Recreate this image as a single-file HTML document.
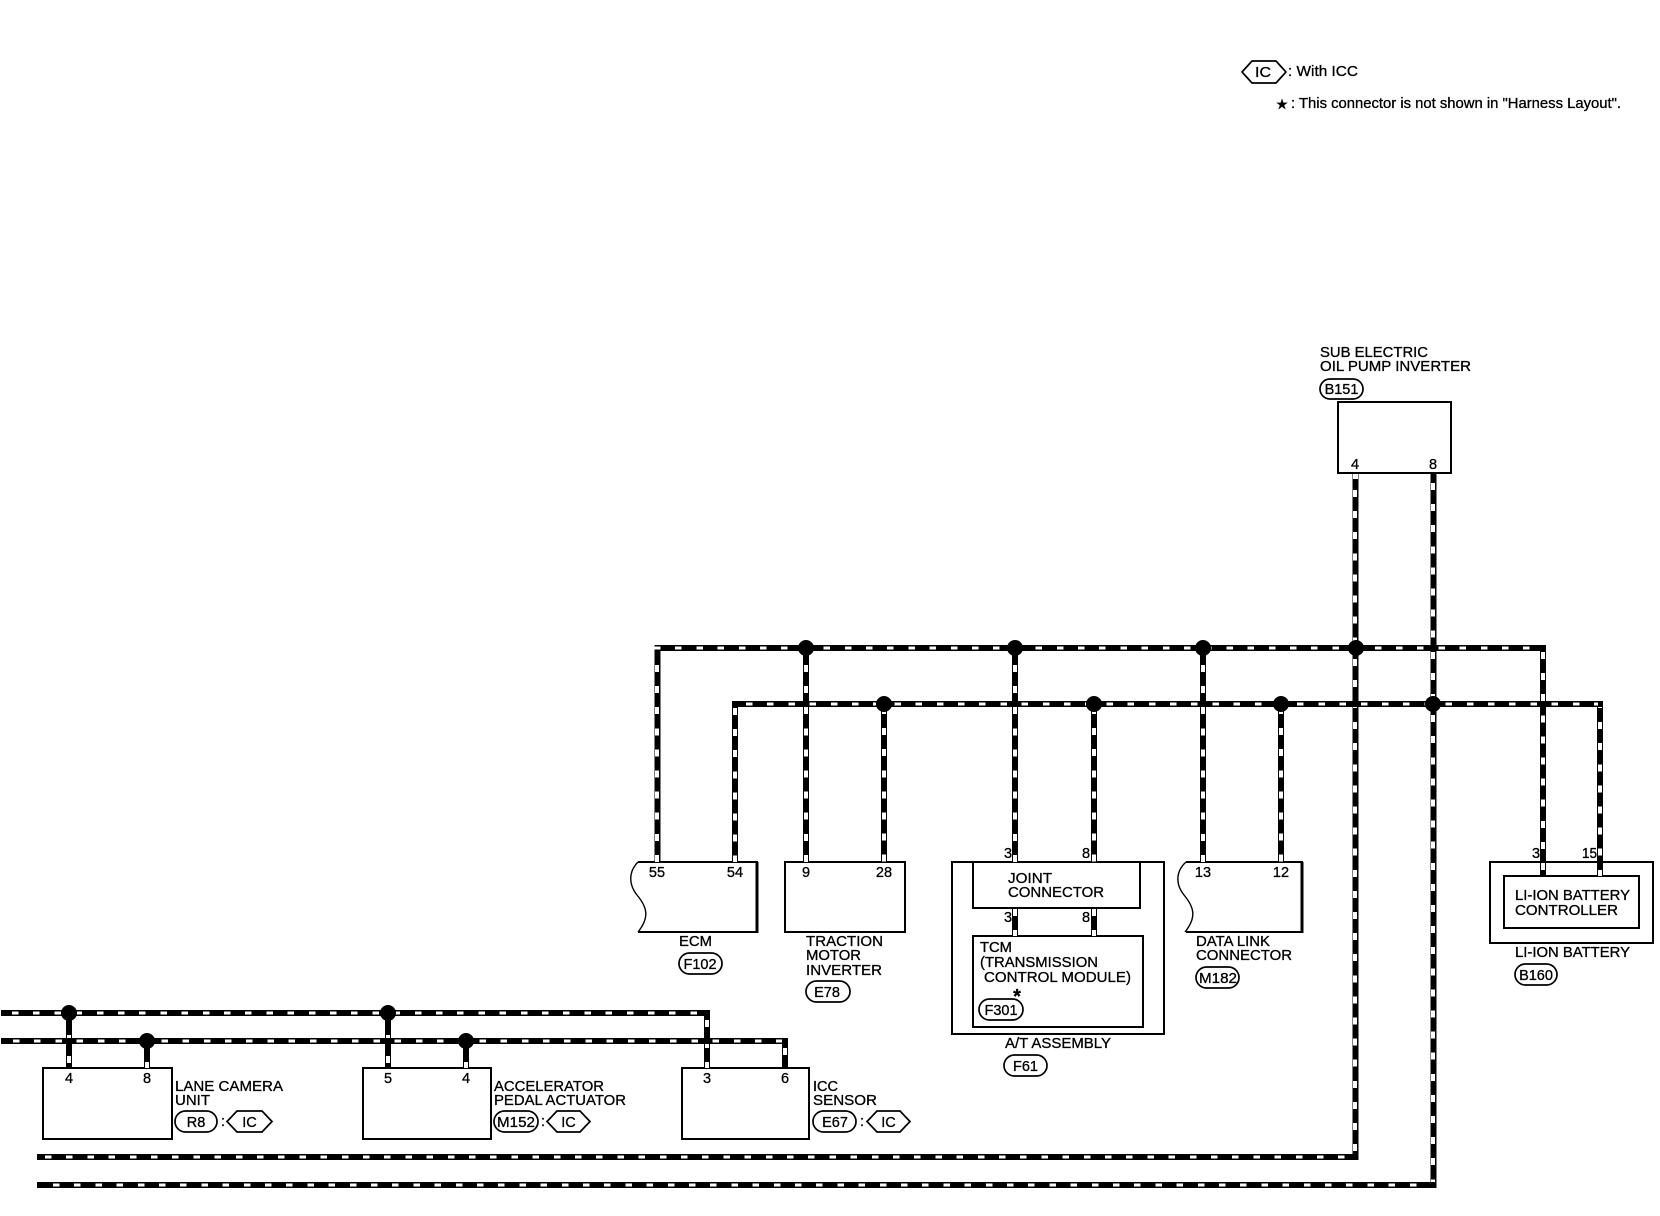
<!DOCTYPE html>
<html>
<head>
<meta charset="utf-8">
<title>Wiring Diagram</title>
<style>
html,body{margin:0;padding:0;background:#fff;}
svg{display:block;}
text{font-family:"Liberation Sans",sans-serif;font-size:14.5px;fill:#000;stroke:#000;stroke-width:.3;}
.c{text-anchor:middle;}
.k line{stroke:#000;fill:none;shape-rendering:crispEdges;}
.h{stroke-width:6;}
.v{stroke-width:6;}
.wh line{stroke:#fff;stroke-width:3;stroke-dasharray:6.5 14.7;fill:none;shape-rendering:crispEdges;}
.wv line{stroke:#fff;stroke-width:4;stroke-dasharray:7 14.1;fill:none;shape-rendering:crispEdges;}
.b{fill:none;stroke:#000;stroke-width:2;shape-rendering:crispEdges;}
.t{fill:none;stroke:#000;stroke-width:1.6;shape-rendering:crispEdges;}
.o{fill:#fff;stroke:#000;stroke-width:1.7;}
</style>
</head>
<body>
<svg width="1660" height="1216" viewBox="0 0 1660 1216" xmlns="http://www.w3.org/2000/svg">
<rect width="1660" height="1216" fill="#fff"/>

<!-- boxes -->
<rect class="b" x="1338" y="402" width="113" height="71"/>
<path class="b" d="M638 862H757V932H638" style="shape-rendering:auto"/>
<path d="M638 862C628 872 629 885 637 895C647 907 650 917 638 932" fill="none" stroke="#000" stroke-width="1.4"/>
<rect x="755.5" y="862" width="3" height="71" fill="#000"/>
<rect class="b" x="785" y="862" width="120" height="70"/>
<rect class="t" x="952" y="862" width="212" height="172"/>
<rect class="b" x="973" y="862" width="167" height="46"/>
<rect class="b" x="973" y="936" width="170" height="91"/>
<path class="b" d="M1186 862H1302V932H1186" style="shape-rendering:auto"/>
<path d="M1186 862C1175 872 1176 885 1184 895C1194 907 1197 917 1185 932" fill="none" stroke="#000" stroke-width="1.4"/>
<rect x="1300.5" y="862" width="3" height="71" fill="#000"/>
<rect class="t" x="1490" y="862" width="163" height="81"/>
<rect class="b" x="1504" y="876" width="135" height="52"/>
<rect class="b" x="43" y="1068" width="129" height="71"/>
<rect class="b" x="363" y="1068" width="128" height="71"/>
<rect class="b" x="682" y="1068" width="127" height="71"/>

<!-- wire black bodies -->
<g class="k">
<line class="h" x1="655" y1="648" x2="1546" y2="648"/>
<line class="h" x1="732" y1="704" x2="1603" y2="704"/>
<line class="h" x1="1" y1="1013" x2="710" y2="1013"/>
<line class="h" x1="1" y1="1041" x2="788" y2="1041"/>
<line class="h" x1="37" y1="1157" x2="1358" y2="1157"/>
<line class="h" x1="37" y1="1185" x2="1436" y2="1185"/>
<line class="v" x1="657.5" y1="645" x2="657.5" y2="862"/>
<line class="v" x1="735" y1="701" x2="735" y2="862"/>
<line class="v" x1="806" y1="648" x2="806" y2="862"/>
<line class="v" x1="884" y1="704" x2="884" y2="862"/>
<line class="v" x1="1015" y1="648" x2="1015" y2="862"/>
<line class="v" x1="1094" y1="704" x2="1094" y2="862"/>
<line class="v" x1="1015" y1="908" x2="1015" y2="936"/>
<line class="v" x1="1094" y1="908" x2="1094" y2="936"/>
<line class="v" x1="1203" y1="648" x2="1203" y2="862"/>
<line class="v" x1="1281" y1="704" x2="1281" y2="862"/>
<line class="v" x1="1355.5" y1="473" x2="1355.5" y2="1160"/>
<line class="v" x1="1433.5" y1="473" x2="1433.5" y2="1188"/>
<line class="v" x1="1543" y1="645" x2="1543" y2="876"/>
<line class="v" x1="1600" y1="701" x2="1600" y2="876"/>
<line class="v" x1="69" y1="1013" x2="69" y2="1068"/>
<line class="v" x1="147" y1="1041" x2="147" y2="1068"/>
<line class="v" x1="388" y1="1013" x2="388" y2="1068"/>
<line class="v" x1="466" y1="1041" x2="466" y2="1068"/>
<line class="v" x1="707" y1="1010" x2="707" y2="1068"/>
<line class="v" x1="785" y1="1038" x2="785" y2="1068"/>
</g>

<!-- white dashes -->
<g class="wv">
<line x1="657" y1="665" x2="657" y2="862"/>
<line x1="735" y1="708" x2="735" y2="862"/>
<line x1="806" y1="665" x2="806" y2="862"/>
<line x1="884" y1="707" x2="884" y2="862"/>
<line x1="1015" y1="665" x2="1015" y2="862"/>
<line x1="1094" y1="707" x2="1094" y2="862"/>
<line x1="1015" y1="909" x2="1015" y2="936"/>
<line x1="1094" y1="909" x2="1094" y2="936"/>
<line x1="1203" y1="665" x2="1203" y2="862"/>
<line x1="1281" y1="707" x2="1281" y2="862"/>
<line x1="1355" y1="490" x2="1355" y2="1155"/>
<line x1="1433" y1="483" x2="1433" y2="1182"/>
<line x1="1543" y1="652" x2="1543" y2="876"/>
<line x1="1600" y1="701" x2="1600" y2="876"/>
<line x1="69" y1="1035" x2="69" y2="1068"/>
<line x1="147" y1="1062" x2="147" y2="1068"/>
<line x1="388" y1="1035" x2="388" y2="1068"/>
<line x1="466" y1="1062" x2="466" y2="1068"/>
<line x1="707" y1="1020" x2="707" y2="1068"/>
<line x1="785" y1="1048" x2="785" y2="1068"/>
</g>
<rect x="1353" y="474" width="5" height="5" fill="#fff"/>
<!-- restore the horizontal wire bodies over the vertical dashes at crossings -->
<g fill="#000" shape-rendering="crispEdges">
<rect x="655" y="645" width="891" height="6"/>
<rect x="732" y="701" width="871" height="6"/>
<rect x="1" y="1010" width="709" height="6"/>
<rect x="1" y="1038" width="787" height="6"/>
</g>
<g class="wh">
<line x1="654" y1="648" x2="1540" y2="648"/>
<line x1="746" y1="704" x2="1598" y2="704"/>
<line x1="12" y1="1013" x2="704" y2="1013"/>
<line x1="13" y1="1041" x2="782" y2="1041"/>
<line x1="45" y1="1157" x2="1352" y2="1157"/>
<line x1="53" y1="1185" x2="1430" y2="1185"/>
</g>

<!-- junction dots -->
<g fill="#000">
<circle cx="806" cy="648" r="8"/>
<circle cx="1015" cy="648" r="8"/>
<circle cx="1203" cy="648" r="8"/>
<circle cx="1356" cy="648" r="8"/>
<circle cx="884" cy="704" r="8"/>
<circle cx="1094" cy="704" r="8"/>
<circle cx="1281" cy="704" r="8"/>
<circle cx="1433" cy="704" r="8"/>
<circle cx="69" cy="1013" r="8"/>
<circle cx="147" cy="1041" r="8"/>
<circle cx="388" cy="1013" r="8"/>
<circle cx="466" cy="1041" r="8"/>
</g>

<!-- ovals -->
<rect class="o" x="1320" y="379" width="43" height="20" rx="10"/>
<rect class="o" x="679" y="953" width="43" height="21" rx="10.5"/>
<rect class="o" x="806" y="981" width="44" height="21" rx="10.5"/>
<rect class="o" x="979" y="999" width="44" height="21" rx="10.5"/>
<rect class="o" x="1004" y="1055" width="43" height="21" rx="10.5"/>
<rect class="o" x="1196" y="967" width="43" height="21" rx="10.5"/>
<rect class="o" x="1515" y="964" width="42" height="21" rx="10.5"/>
<rect class="o" x="175" y="1111" width="42" height="21" rx="10.5"/>
<rect class="o" x="494" y="1111" width="44" height="21" rx="10.5"/>
<rect class="o" x="813" y="1111" width="43" height="21" rx="10.5"/>

<!-- hexagons -->
<polygon class="o" points="1242,72 1252,61 1276,61 1286,72 1276,83 1252,83"/>
<polygon class="o" points="227,1121.5 237,1111 262,1111 272,1121.5 262,1132 237,1132"/>
<polygon class="o" points="547,1121.5 557,1111 580,1111 590,1121.5 580,1132 557,1132"/>
<polygon class="o" points="867,1121.5 877,1111 900,1111 910,1121.5 900,1132 877,1132"/>

<!-- legend -->
<text x="1255" y="77" textLength="16" lengthAdjust="spacingAndGlyphs">IC</text>
<text x="1288" y="76" textLength="70" lengthAdjust="spacingAndGlyphs">: With ICC</text>
<text x="1282" y="109" class="c" style="font-family:'DejaVu Sans',sans-serif;font-size:14px">★</text>
<text x="1291" y="108" textLength="330" lengthAdjust="spacingAndGlyphs">: This connector is not shown in "Harness Layout".</text>

<!-- B151 -->
<text x="1320" y="357" textLength="108" lengthAdjust="spacingAndGlyphs">SUB ELECTRIC</text>
<text x="1320" y="371" textLength="151" lengthAdjust="spacingAndGlyphs">OIL PUMP INVERTER</text>
<text x="1341.5" y="394" class="c">B151</text>
<text x="1355" y="469" class="c">4</text>
<text x="1433" y="469" class="c">8</text>

<!-- ECM -->
<text x="657" y="877" class="c">55</text>
<text x="735" y="877" class="c">54</text>
<text x="679" y="946" textLength="33" lengthAdjust="spacingAndGlyphs">ECM</text>
<text x="700" y="969" class="c">F102</text>

<!-- Traction -->
<text x="806" y="877" class="c">9</text>
<text x="884" y="877" class="c">28</text>
<text x="806" y="946" textLength="77" lengthAdjust="spacingAndGlyphs">TRACTION</text>
<text x="806" y="960" textLength="55" lengthAdjust="spacingAndGlyphs">MOTOR</text>
<text x="806" y="975" textLength="76" lengthAdjust="spacingAndGlyphs">INVERTER</text>
<text x="827" y="997" class="c">E78</text>

<!-- A/T -->
<text x="1004" y="858">3</text>
<text x="1082" y="858">8</text>
<text x="1008" y="883" textLength="44" lengthAdjust="spacingAndGlyphs">JOINT</text>
<text x="1008" y="897" textLength="96" lengthAdjust="spacingAndGlyphs">CONNECTOR</text>
<text x="1004" y="922">3</text>
<text x="1082" y="922">8</text>
<text x="980" y="952" textLength="32" lengthAdjust="spacingAndGlyphs">TCM</text>
<text x="980" y="967" textLength="118" lengthAdjust="spacingAndGlyphs">(TRANSMISSION</text>
<text x="984" y="982" textLength="147" lengthAdjust="spacingAndGlyphs">CONTROL MODULE)</text>
<text x="1017" y="1003" class="c" style="font-size:20px;font-weight:bold">*</text>
<text x="1001" y="1015" class="c">F301</text>
<text x="1005" y="1048" textLength="106" lengthAdjust="spacingAndGlyphs">A/T ASSEMBLY</text>
<text x="1025.5" y="1071" class="c">F61</text>

<!-- Data link -->
<text x="1203" y="877" class="c">13</text>
<text x="1281" y="877" class="c">12</text>
<text x="1196" y="946" textLength="74" lengthAdjust="spacingAndGlyphs">DATA LINK</text>
<text x="1196" y="960" textLength="96" lengthAdjust="spacingAndGlyphs">CONNECTOR</text>
<text x="1218" y="983" class="c" textLength="38" lengthAdjust="spacingAndGlyphs">M182</text>

<!-- Li-ion -->
<text x="1532" y="858">3</text>
<text x="1582" y="858" textLength="15" lengthAdjust="spacingAndGlyphs">15</text>
<text x="1515" y="900" textLength="115" lengthAdjust="spacingAndGlyphs">LI-ION BATTERY</text>
<text x="1515" y="915" textLength="103" lengthAdjust="spacingAndGlyphs">CONTROLLER</text>
<text x="1515" y="957" textLength="115" lengthAdjust="spacingAndGlyphs">LI-ION BATTERY</text>
<text x="1536" y="980" class="c">B160</text>

<!-- Lane camera -->
<text x="69" y="1083" class="c">4</text>
<text x="147" y="1083" class="c">8</text>
<text x="175" y="1091" textLength="108" lengthAdjust="spacingAndGlyphs">LANE CAMERA</text>
<text x="175" y="1105" textLength="35" lengthAdjust="spacingAndGlyphs">UNIT</text>
<text x="196" y="1127" class="c">R8</text>
<text x="221" y="1126">:</text>
<text x="249.5" y="1127" class="c">IC</text>

<!-- Accelerator -->
<text x="388" y="1083" class="c">5</text>
<text x="466" y="1083" class="c">4</text>
<text x="494" y="1091" textLength="110" lengthAdjust="spacingAndGlyphs">ACCELERATOR</text>
<text x="494" y="1105" textLength="132" lengthAdjust="spacingAndGlyphs">PEDAL ACTUATOR</text>
<text x="516" y="1127" class="c" textLength="38" lengthAdjust="spacingAndGlyphs">M152</text>
<text x="541" y="1126">:</text>
<text x="568.5" y="1127" class="c">IC</text>

<!-- ICC sensor -->
<text x="707" y="1083" class="c">3</text>
<text x="785" y="1083" class="c">6</text>
<text x="813" y="1091" textLength="25" lengthAdjust="spacingAndGlyphs">ICC</text>
<text x="813" y="1105" textLength="64" lengthAdjust="spacingAndGlyphs">SENSOR</text>
<text x="835" y="1127" class="c">E67</text>
<text x="860" y="1126">:</text>
<text x="888.5" y="1127" class="c">IC</text>
</svg>
</body>
</html>
